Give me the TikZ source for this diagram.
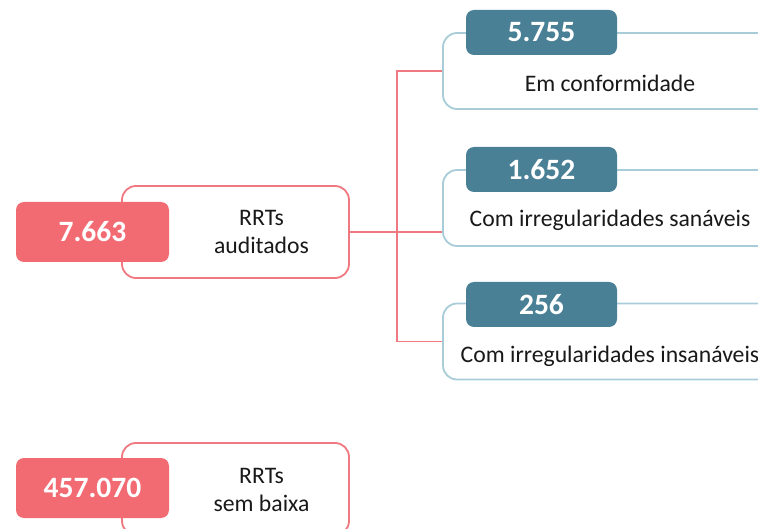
\documentclass[tikz,border=0pt]{standalone}
\usepackage{fontspec}
\setmainfont{Carlito}
\definecolor{redfill}{RGB}{242,107,115}
\definecolor{redline}{RGB}{240,120,128}
\definecolor{bluefill}{RGB}{74,128,150}
\definecolor{blueline}{RGB}{168,204,216}
\begin{document}
\begin{tikzpicture}[x=1pt,y=-1pt,
  redout/.style={draw=redline,line width=1.8pt,fill=white,rounded corners=14pt,inner sep=0pt,minimum width=227pt,minimum height=92pt},
  redbox/.style={fill=redfill,rounded corners=8pt,inner sep=0pt,minimum width=153pt,minimum height=60pt,text=white,font=\fontsize{29.5}{32}\selectfont\bfseries},
  blueout/.style={draw=blueline,line width=1.8pt,fill=white,rounded corners=14pt,inner sep=0pt,minimum width=334pt,minimum height=76pt},
  bluebox/.style={fill=bluefill,rounded corners=8pt,inner sep=0pt,minimum width=151pt,minimum height=45pt,text=white,font=\fontsize{29.5}{32}\selectfont\bfseries},
  lbl/.style={inner sep=0pt,align=center,font=\fontsize{23.7}{27.5}\selectfont,text=black!90},
  conn/.style={draw=redline,line width=1.4pt}]
\useasboundingbox (0,0) rectangle (758,529);
\clip (0,0) rectangle (758,529);
% red groups
\node[redout] (r1out) at (235.5,232) {};
\node[redbox] (r1) at (92.5,232) {7.663};
\node[lbl] (r1t) at (261.5,232) {RRTs\\auditados};
\node[redout] (r2out) at (235.5,489) {};
\node[redbox] (r2) at (92.5,488) {457.070};
\node[lbl] (r2t) at (261.5,490) {RRTs\\sem baixa};
% blue groups
\node[blueout] (b1out) at (610,71) {};
\node[bluebox] (b1) at (541.5,32.5) {5.755};
\node[lbl] (b1t) at (610,83) {Em conformidade};
\node[blueout] (b2out) at (610,208) {};
\node[bluebox] (b2) at (541.5,169.5) {1.652};
\node[lbl] (b2t) at (610,220) {Com irregularidades sanáveis};
\node[blueout] (b3out) at (610,341.5) {};
\node[bluebox] (b3) at (541.5,304.5) {256};
\node[lbl] (b3t) at (610,356) {Com irregularidades insanáveis};
% connectors
\coordinate (jx) at (397,232);
\draw[conn] (b1out.west) -| (jx) |- (b3out.west);
\draw[conn] (r1out.east) -- (r1out.east -| b2out.west);
\end{tikzpicture}
\end{document}
